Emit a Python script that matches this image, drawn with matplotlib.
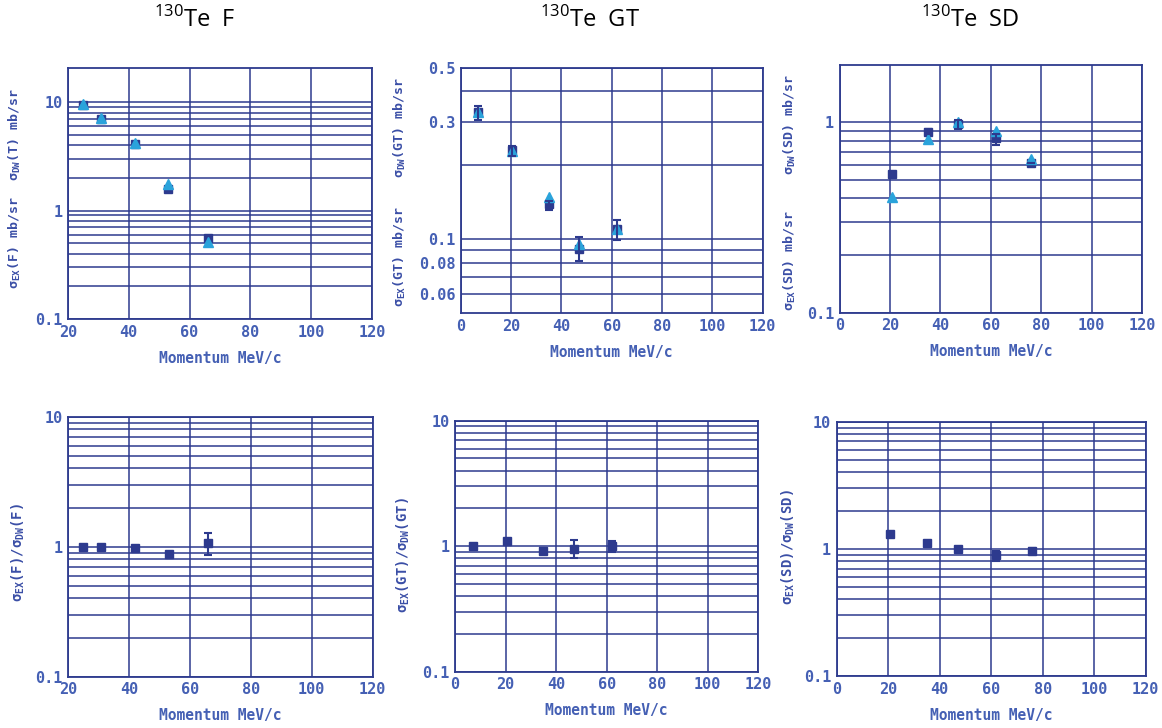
import matplotlib
matplotlib.use("Agg")
import matplotlib.pyplot as plt

# ---- data ----
# Fermi (F)
p_F = [25, 31, 42, 53, 66]
ex_F = [9.4, 7.0, 4.1, 1.58, 0.555]
dw_F = [9.5, 7.1, 4.19, 1.76, 0.51]
ratio_F = [1.0, 1.0, 0.97, 0.88, 1.07]
ratio_F_lo = [1.0, 1.0, 0.97, 0.88, 0.87]
ratio_F_hi = [1.0, 1.0, 0.97, 0.88, 1.28]

# Gamow-Teller (GT)
p_GT = [7, 20.5, 35, 47, 62]
ex_GT = [0.33, 0.23, 0.139, 0.091, 0.11]
ex_GT_lo = [0.306, 0.218, 0.132, 0.0817, 0.0991]
ex_GT_hi = [0.348, 0.240, 0.143, 0.1016, 0.1201]
dw_GT = [0.329, 0.229, 0.149, 0.0954, 0.110]
ratio_GT = [1.0, 1.10, 0.92, 0.95, 1.0]
ratio_GT_lo = [0.96, 1.10, 0.89, 0.81, 0.90]
ratio_GT_hi = [1.03, 1.10, 0.96, 1.12, 1.10]

# spin-dipole (SD)
p_SD = [20.6, 35, 47, 62, 76]
ex_SD = [0.537, 0.894, 0.984, 0.827, 0.611]
ex_SD_lo = [0.537, 0.87, 0.918, 0.757, 0.611]
ex_SD_hi = [0.537, 0.92, 1.03, 0.868, 0.611]
dw_SD = [0.405, 0.814, 1.0, 0.897, 0.642]
ratio_SD = [1.30, 1.11, 0.99, 0.90, 0.97]
ratio_SD_lo = [1.30, 1.11, 0.95, 0.81, 0.93]
ratio_SD_hi = [1.30, 1.11, 1.03, 0.97, 1.01]

navy = "#2d3a8e"
tickblue = "#4560b4"
lightblue = "#2aa3db"
mono = "DejaVu Sans Mono"

fig = plt.figure(figsize=(11.62, 7.28), dpi=100)


def style(ax, xmin, ylim, yticks, yticklabels, yminor):
    ax.set_xlim(xmin, 120)
    ax.set_yscale("log")
    ax.set_ylim(*ylim)
    ax.set_xticks(range(xmin, 121, 20))
    ax.set_yticks(yticks)
    ax.set_yticks(yminor, minor=True)
    ax.set_yticklabels(yticklabels)
    ax.yaxis.set_minor_formatter(matplotlib.ticker.NullFormatter())
    ax.grid(True, which="both", color=navy, lw=1.1)
    ax.set_axisbelow(True)
    for s in ax.spines.values():
        s.set_color(navy)
        s.set_linewidth(1.3)
    ax.tick_params(which="both", length=0, pad=4, colors=tickblue)
    for lab in ax.get_xticklabels() + ax.get_yticklabels():
        lab.set_fontfamily(mono)
        lab.set_fontweight("bold")
        lab.set_fontsize(11)
    ax.set_xlabel("Momentum MeV/c", fontfamily=mono, fontweight="bold",
                  fontsize=10.5, color=tickblue, labelpad=8)


def errbars(ax, x, y, lo, hi):
    yerr = [[v - l for v, l in zip(y, lo)], [h - v for v, h in zip(y, hi)]]
    ax.errorbar(x, y, yerr=yerr, fmt="none", ecolor=navy, elinewidth=1.5,
                capsize=3, capthick=1.5, zorder=5)


def ylab(ax, x, y, s, size=9.5):
    ax.text(x, y, s, transform=ax.transAxes, rotation=90, ha="center", va="center",
            fontfamily=mono, fontweight="bold", fontsize=size, color="#3a4ea6")


minor_all = [0.2, 0.3, 0.4, 0.5, 0.6, 0.7, 0.8, 0.9, 2, 3, 4, 5, 6, 7, 8, 9]

# ---- top row: cross sections ----
ax1 = fig.add_axes([0.0585, 0.5618, 0.2616, 0.3448])
style(ax1, 20, (0.1, 20.6), [0.1, 1, 10], ["0.1", "1", "10"], minor_all)
ax1.plot(p_F, ex_F, "s", color=navy, ms=5.5, zorder=3)
ax1.plot(p_F, dw_F, "^", color=lightblue, ms=7, zorder=4)
ylab(ax1, -0.175, 0.303, r"σ$_{\mathregular{EX}}$(F) mb/sr")
ylab(ax1, -0.175, 0.733, r"σ$_{\mathregular{DW}}$(T) mb/sr")

ax2 = fig.add_axes([0.3965, 0.570, 0.2599, 0.337])
style(ax2, 0, (0.05, 0.5), [0.06, 0.08, 0.1, 0.3, 0.5],
      ["0.06", "0.08", "0.1", "0.3", "0.5"], [0.07, 0.09, 0.2, 0.4])
ax2.plot(p_GT, ex_GT, "s", color=navy, ms=5.5, zorder=3)
ax2.plot(p_GT, dw_GT, "^", color=lightblue, ms=7, zorder=4)
errbars(ax2, p_GT, ex_GT, ex_GT_lo, ex_GT_hi)
ylab(ax2, -0.2, 0.232, r"σ$_{\mathregular{EX}}$(GT) mb/sr")
ylab(ax2, -0.2, 0.758, r"σ$_{\mathregular{DW}}$(GT) mb/sr")

ax3 = fig.add_axes([0.7226, 0.5705, 0.2602, 0.3402])
style(ax3, 0, (0.1, 2.0), [0.1, 1], ["0.1", "1"],
      [0.2, 0.3, 0.4, 0.5, 0.6, 0.7, 0.8, 0.9])
ax3.plot(p_SD, ex_SD, "s", color=navy, ms=5.5, zorder=3)
ax3.plot(p_SD, dw_SD, "^", color=lightblue, ms=7, zorder=4)
errbars(ax3, p_SD, ex_SD, ex_SD_lo, ex_SD_hi)
ylab(ax3, -0.164, 0.21, r"σ$_{\mathregular{EX}}$(SD) mb/sr")
ylab(ax3, -0.164, 0.758, r"σ$_{\mathregular{DW}}$(SD) mb/sr")

# ---- bottom row: ratios ----
ax4 = fig.add_axes([0.0585, 0.0705, 0.2622, 0.3571])
style(ax4, 20, (0.1, 10), [0.1, 1, 10], ["0.1", "1", "10"], minor_all)
ax4.plot(p_F, ratio_F, "s", color=navy, ms=5.5, zorder=3)
errbars(ax4, p_F, ratio_F, ratio_F_lo, ratio_F_hi)
ylab(ax4, -0.164, 0.476, r"σ$_{\mathregular{EX}}$(F)/σ$_{\mathregular{DW}}$(F)", 10)

ax5 = fig.add_axes([0.3916, 0.0773, 0.2610, 0.3448])
style(ax5, 0, (0.1, 10), [0.1, 1, 10], ["0.1", "1", "10"], minor_all)
ax5.plot(p_GT, ratio_GT, "s", color=navy, ms=5.5, zorder=3)
errbars(ax5, p_GT, ratio_GT, ratio_GT_lo, ratio_GT_hi)
ylab(ax5, -0.171, 0.464, r"σ$_{\mathregular{EX}}$(GT)/σ$_{\mathregular{DW}}$(GT)", 10)

ax6 = fig.add_axes([0.7200, 0.0714, 0.2660, 0.3493])
style(ax6, 0, (0.1, 10), [0.1, 1, 10], ["0.1", "1", "10"], minor_all)
ax6.plot(p_SD, ratio_SD, "s", color=navy, ms=5.5, zorder=3)
errbars(ax6, p_SD, ratio_SD, ratio_SD_lo, ratio_SD_hi)
ylab(ax6, -0.158, 0.505, r"σ$_{\mathregular{EX}}$(SD)/σ$_{\mathregular{DW}}$(SD)", 10)

# ---- column titles ----
for xc, name in [(0.168, "F"), (0.508, "GT"), (0.835, "SD")]:
    fig.text(xc, 0.972, r"$^{\mathregular{130}}$Te  " + name, ha="center", va="center",
             fontfamily="Open Sans", fontsize=17, color="black")

fig.savefig("out.png", dpi=100)
